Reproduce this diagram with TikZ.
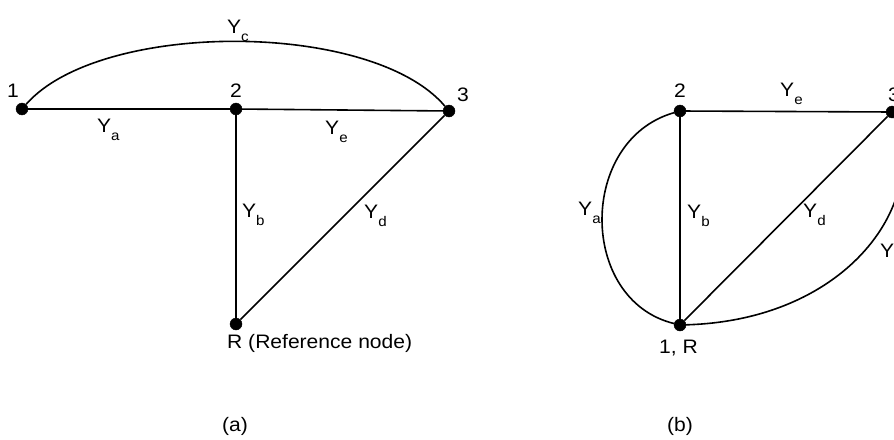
\documentclass[tikz,border=0pt]{standalone}
\usepackage{fontspec}
\setmainfont{Liberation Sans}[FakeStretch=1.08]
\usetikzlibrary{positioning}
\tikzset{
  wire/.style={line width=1.6pt},
  bdot/.style={circle, draw, fill=black, inner sep=0pt, minimum size=12pt},
  lbl/.style={inner sep=0pt, anchor=base west, font=\fontsize{19.5}{20}\selectfont},
  num/.style={inner sep=0pt, anchor=base, font=\fontsize{19.5}{20}\selectfont}
}
\newcommand{\adm}[1]{Y\raisebox{-8pt}{\fontsize{14}{14}\selectfont #1}}

\begin{document}
\begin{tikzpicture}[x=1pt,y=-1pt]
  \useasboundingbox (0,0) rectangle (894,439);
  \clip (0,0) rectangle (894,439);
  % (a) network with reference node
  \node[bdot] (n1) at (22,109) {};
  \node[bdot] (n2) at (236,109) {};
  \node[bdot] (n3) at (449,111) {};
  \node[bdot] (nR) at (236,324) {};
  \node[num] (t1) at (13,97) {1};
  \node[num] (t2) at (236,97) {2};
  \node[num] (t3) at (463,101) {3};
  \node[lbl] (tR) at (227,348) {R (Reference node)};
  \draw[wire] (n1) -- (n2) -- (n3);
  \draw[wire] (n2) -- (nR) -- (n3);
  \draw[wire] (n1) .. controls (100,20) and (372,20) .. (n3);
  \node[lbl] (ya) at (97,132) {\adm{a}};
  \node[lbl] (ye) at (325,134) {\adm{e}};
  \node[lbl] (yc) at (227,33) {\adm{c}};
  \node[lbl] (yb) at (242,217) {\adm{b}};
  \node[lbl] (yd) at (364,218) {\adm{d}};
  \node[num] (capa) at (235,431) {(a)};
  % (b) same network redrawn
  \node[bdot] (m2) at (680,111) {};
  \node[bdot] (m3) at (892,112) {};
  \node[bdot] (mR) at (680,325) {};
  \node[num] (s2) at (680,97) {2};
  \node[lbl] (s3) at (888,101) {3};
  \node[lbl] (sR) at (659,353) {1, R};
  \draw[wire] (m2) -- (m3) -- (mR) -- (m2);
  \draw[wire] (m2) .. controls (578,140) and (578,300) .. (mR);
  \draw[wire] (mR) .. controls (850,320) and (930,200) .. (m3);
  \node[lbl] (za) at (578,215) {\adm{a}};
  \node[lbl] (ze) at (780,96) {\adm{e}};
  \node[lbl] (zb) at (687,218) {\adm{b}};
  \node[lbl] (zd) at (803,217) {\adm{d}};
  \node[lbl] (zc) at (880,257) {\adm{c}};
  \node[num] (capb) at (680,431) {(b)};
\end{tikzpicture}
\end{document}
